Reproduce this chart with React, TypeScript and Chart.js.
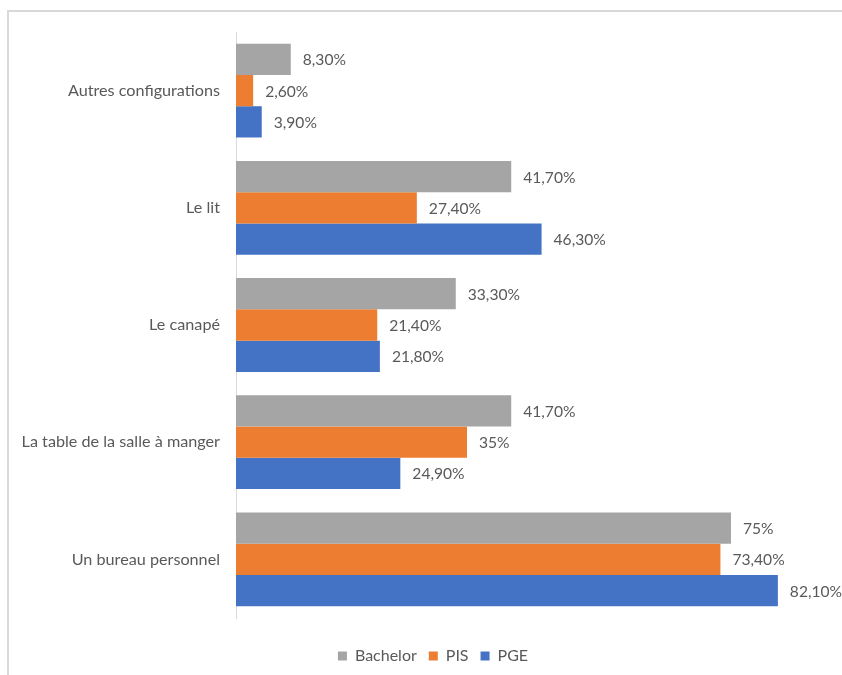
import React, { useEffect, useRef } from "react";
import { Chart, registerables } from "chart.js";

Chart.register(...registerables);

const categories = [
  "Autres configurations",
  "Le lit",
  "Le canapé",
  "La table de la salle à manger",
  "Un bureau personnel",
];
const seriesNames = ["Bachelor", "PIS", "PGE"];
const bachelorValues = [8.3, 41.7, 33.3, 41.7, 75];
const pisValues = [2.6, 27.4, 21.4, 35, 73.4];
const pgeValues = [3.9, 46.3, 21.8, 24.9, 82.1];
const bachelorLabels = ["8,30%", "41,70%", "33,30%", "41,70%", "75%"];
const pisLabels = ["2,60%", "27,40%", "21,40%", "35%", "73,40%"];
const pgeLabels = ["3,90%", "46,30%", "21,80%", "24,90%", "82,10%"];
const seriesColors = ["#A5A5A5", "#ED7D31", "#4472C4"];

const FONT = "Lato, 'Open Sans', sans-serif";
const TEXT = "#595959";

const frameAndLabels = {
  id: "frameAndLabels",
  afterLayout(chart: any) {
    if (chart.legend) {
      chart.legend.left += 36;
    }
  },
  beforeDraw(chart: any) {
    const ctx = chart.ctx;
    ctx.save();
    ctx.fillStyle = "#ffffff";
    ctx.fillRect(0, 0, chart.width, chart.height);
    ctx.strokeStyle = "#D9D9D9";
    ctx.lineWidth = 2;
    ctx.beginPath();
    ctx.moveTo(8, chart.height);
    ctx.lineTo(8, 11);
    ctx.lineTo(chart.width, 11);
    ctx.stroke();
    ctx.restore();
  },
  afterDatasetsDraw(chart: any) {
    const ctx = chart.ctx;
    ctx.save();
    ctx.font = `15.6px ${FONT}`;
    ctx.fillStyle = TEXT;
    ctx.textAlign = "left";
    ctx.textBaseline = "middle";
    chart.data.datasets.forEach((ds: any, i: number) => {
      const meta = chart.getDatasetMeta(i);
      meta.data.forEach((bar: any, j: number) => {
        ctx.fillText(ds.valueLabels[j], bar.x + 12, bar.y + 1);
      });
    });
    ctx.restore();
  },
};

export default function App() {
  const ref = useRef<HTMLCanvasElement>(null);
  useEffect(() => {
    if (!ref.current) return;
    const chart = new Chart(ref.current, {
      type: "bar",
      data: {
        labels: categories,
        datasets: [
          { label: seriesNames[0], data: bachelorValues, valueLabels: bachelorLabels, backgroundColor: seriesColors[0] } as any,
          { label: seriesNames[1], data: pisValues, valueLabels: pisLabels, backgroundColor: seriesColors[1] } as any,
          { label: seriesNames[2], data: pgeValues, valueLabels: pgeLabels, backgroundColor: seriesColors[2] } as any,
        ],
      },
      options: {
        indexAxis: "y",
        animation: false,
        responsive: false,
        devicePixelRatio: 1,
        layout: { padding: { top: 32, right: 12, bottom: 1, left: 0 } },
        datasets: { bar: { categoryPercentage: 0.8, barPercentage: 1.0 } },
        scales: {
          x: {
            min: 0,
            max: 90,
            display: true,
            grid: { display: false },
            border: { display: false },
            ticks: { display: false },
            afterFit: (s: any) => {
              s.height = 18;
            },
          },
          y: {
            grid: { display: true, drawOnChartArea: false, drawTicks: false },
            border: { display: true, color: "#D9D9D9", width: 1 },
            ticks: { padding: 16, color: TEXT, font: { family: FONT, size: 16.2 } },
            afterFit: (s: any) => {
              s.width = 236;
            },
          },
        },
        plugins: {
          legend: {
            position: "bottom",
            labels: {
              boxWidth: 9,
              boxHeight: 9,
              padding: 12,
              color: TEXT,
              font: { family: FONT, size: 16 },
            },
          },
          tooltip: { enabled: false },
        },
      },
      plugins: [frameAndLabels],
    });
    return () => chart.destroy();
  }, []);
  return (
    <div style={{ position: "absolute", left: 0, top: 0, width: 842, height: 675 }}>
      <canvas ref={ref} width={842} height={675} />
    </div>
  );
}
